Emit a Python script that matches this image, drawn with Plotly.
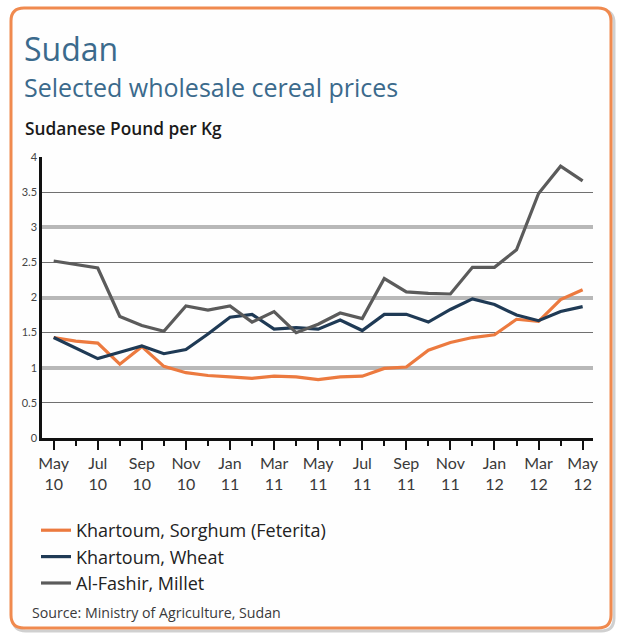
import plotly.graph_objects as go

# ---------------- data ----------------
months = ["May", "Jun", "Jul", "Aug", "Sep", "Oct", "Nov", "Dec",
          "Jan", "Feb", "Mar", "Apr", "May", "Jun", "Jul", "Aug", "Sep", "Oct", "Nov", "Dec",
          "Jan", "Feb", "Mar", "Apr", "May"]
years = ["10"] * 8 + ["11"] * 12 + ["12"] * 5

sorghum = [1.43, 1.38, 1.35, 1.05, 1.30, 1.02, 0.93, 0.89, 0.87, 0.85, 0.88, 0.87,
           0.83, 0.87, 0.88, 0.99, 1.01, 1.25, 1.36, 1.43, 1.47, 1.69, 1.66, 1.97, 2.11]
wheat = [1.43, 1.28, 1.13, 1.22, 1.31, 1.20, 1.26, 1.48, 1.72, 1.76, 1.55, 1.57,
         1.55, 1.68, 1.53, 1.76, 1.76, 1.65, 1.83, 1.98, 1.90, 1.75, 1.67, 1.80, 1.87]
millet = [2.52, 2.47, 2.42, 1.73, 1.60, 1.52, 1.88, 1.82, 1.88, 1.65, 1.80, 1.50,
          1.62, 1.78, 1.70, 2.27, 2.08, 2.06, 2.05, 2.43, 2.43, 2.68, 3.48, 3.87, 3.66]

series_names = ["Khartoum, Sorghum (Feterita)", "Khartoum, Wheat", "Al-Fashir, Millet"]
series_colors = ["#ec7a3f", "#1f3a55", "#5b5b5b"]

title = "Sudan"
subtitle = "Selected wholesale cereal prices"
unit_label = "Sudanese Pound per Kg"
source = "Source: Ministry of Agriculture, Sudan"

x_idx = list(range(len(months)))
tick_idx = x_idx[::2]
tick_text = [f"{months[i]}<br>{years[i]}" for i in tick_idx]

FONT = "Open Sans"
TICKFONT = "Lato"

# ---------------- layout geometry (pixels) ----------------
W_FIG, H_FIG = 617, 636
L, R, T, B = 42, 593, 157, 438
PW, PH = R - L, B - T


def px(x):
    return (x - L) / PW


def py(y):
    return (B - y) / PH


fig = go.Figure()
for name, vals, col in zip(series_names, [sorghum, wheat, millet], series_colors):
    fig.add_trace(go.Scatter(x=x_idx, y=vals, mode="lines", name=name,
                             line=dict(color=col, width=3.2)))

# secondary y axis only used for heavier integer grid lines
fig.add_trace(go.Scatter(x=[x_idx[0]], y=[0], yaxis="y2", mode="lines",
                         showlegend=False, hoverinfo="skip",
                         line=dict(color="rgba(0,0,0,0)")))


def rounded_rect(x0, y0, x1, y1, r):
    rx, ry = r / PW, r / PH
    X0, X1 = px(x0), px(x1)
    Y0, Y1 = py(y0), py(y1)
    return (f"M {X0+rx},{Y0} L {X1-rx},{Y0} Q {X1},{Y0} {X1},{Y0-ry} "
            f"L {X1},{Y1+ry} Q {X1},{Y1} {X1-rx},{Y1} L {X0+rx},{Y1} "
            f"Q {X0},{Y1} {X0},{Y1+ry} L {X0},{Y0-ry} Q {X0},{Y0} {X0+rx},{Y0} Z")


shapes = [
    dict(type="path", xref="paper", yref="paper", layer="below",
         path=rounded_rect(13, 10, 614, 631, 13),
         line=dict(color="rgba(150,150,150,0.45)", width=3)),
    dict(type="path", xref="paper", yref="paper", layer="below",
         path=rounded_rect(11, 8, 611, 628, 13),
         fillcolor="#fefefe", line=dict(color="#f08a4f", width=3)),
]

annotations = [
    dict(text=title, x=px(22), y=py(48), xref="paper", yref="paper",
         xanchor="left", yanchor="middle", showarrow=False,
         font=dict(family=FONT, size=32, color="#3b6a8c")),
    dict(text=subtitle, x=px(22), y=py(87), xref="paper", yref="paper",
         xanchor="left", yanchor="middle", showarrow=False,
         font=dict(family=FONT, size=25, color="#3b6a8c")),
    dict(text=unit_label, x=px(23), y=py(128), xref="paper", yref="paper",
         xanchor="left", yanchor="middle", showarrow=False,
         font=dict(family=FONT, size=17.3, color="#1a1a1a", weight=600)),
    dict(text=source, x=px(30), y=py(612), xref="paper", yref="paper",
         xanchor="left", yanchor="middle", showarrow=False,
         font=dict(family=FONT, size=14.2, color="#3a3a3a")),
]

fig.update_layout(
    width=W_FIG, height=H_FIG,
    margin=dict(l=L, r=W_FIG - R, t=T, b=H_FIG - B, pad=0, autoexpand=False),
    paper_bgcolor="white", plot_bgcolor="rgba(0,0,0,0)",
    font=dict(family=FONT, color="#333"),
    showlegend=True,
    legend=dict(x=px(36), y=py(512), xanchor="left", yanchor="top",
                orientation="v", bgcolor="rgba(0,0,0,0)",
                font=dict(family=FONT, size=18, color="#222"),
                itemwidth=30, tracegroupgap=0),
    xaxis=dict(range=[-0.53, 24.47], tickmode="array", tickvals=tick_idx,
               ticktext=tick_text, showgrid=False, zeroline=False,
               showline=True, linecolor="#111", linewidth=2.5,
               ticks="outside", ticklen=9, tickwidth=2, tickcolor="#111",
               minor=dict(ticks="outside", ticklen=5, tickwidth=2, tickcolor="#111",
                          tick0=1, dtick=2, showgrid=False),
               tickfont=dict(family=TICKFONT, size=16, color="#3a3a3a"),
               fixedrange=True),
    yaxis=dict(range=[0, 4], dtick=0.5, tick0=0, showgrid=True,
               gridcolor="#707070", gridwidth=1.2, zeroline=False,
               showline=True, linecolor="#111", linewidth=2.5,
               ticks="", ticklabelstandoff=0,
               tickfont=dict(family=TICKFONT, size=11, color="#444"),
               fixedrange=True),
    yaxis2=dict(range=[0, 4], dtick=1, tick0=0, overlaying="y", side="left",
                showgrid=True, gridcolor="#b8b8b8", gridwidth=3.5,
                showticklabels=False, zeroline=False, showline=False,
                fixedrange=True),
    shapes=shapes,
    annotations=annotations,
)

fig.write_html("out.html", config={"displayModeBar": False},
               post_script="document.body.style.margin='0';")
